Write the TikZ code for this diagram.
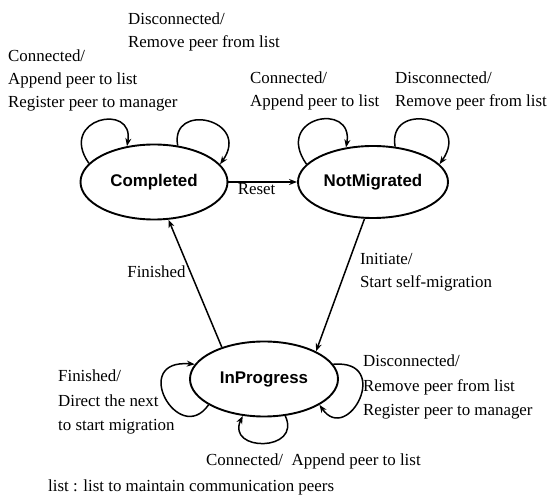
\documentclass[tikz,border=0pt]{standalone}
\usepackage{fontspec}
\setmainfont{Liberation Serif}
\newfontfamily\statefont{Liberation Sans}
\usetikzlibrary{positioning, arrows.meta, shapes.geometric}

\begin{document}
\begin{tikzpicture}[
    x=1pt, y=1pt,
    font=\fontsize{16.9}{23}\selectfont,
    state/.style={ellipse, draw, line width=1.9pt, inner sep=0pt, font=\statefont\bfseries\fontsize{16.9}{20}\selectfont},
    trans/.style={-{Stealth[length=8pt, width=6pt]}, line width=1.5pt},
    note/.style={anchor=west, inner sep=0pt, align=left}
]
\useasboundingbox (0,0) rectangle (549,495);

\node[state, minimum width=147pt, minimum height=75pt] (completed) at (154,313) {Completed};
\node[state, minimum width=150pt, minimum height=72pt] (notmigrated) at (373,313) {NotMigrated};
\node[state, minimum width=148pt, minimum height=75pt] (inprogress) at (264,116) {InProgress};

% transitions between states
\draw[trans] (completed.east) -- node[below, pos=0.41, inner sep=1pt] {Reset} (notmigrated.west);
\draw[trans] (notmigrated.257) -- node[right=14.5pt, pos=0.406, inner sep=0pt, align=left] {Initiate/\\Start self-migration} (inprogress.28);
\draw[trans] (inprogress.143) -- node[left, pos=0.59, inner sep=4pt] {Finished} (completed.291);

% self loops
\draw[trans] (completed.164) .. controls +(125:55) and +(80:45) .. (completed.127);
\draw[trans] (completed.57) .. controls +(100:45) and +(55:55) .. (completed.15);
\draw[trans] (notmigrated.165) .. controls +(125:58) and +(80:47) .. (notmigrated.128);
\draw[trans] (notmigrated.58) .. controls +(100:47) and +(55:58) .. (notmigrated.15);
\draw[trans] (inprogress.205) .. controls +(235:52) and +(175:66) .. (inprogress.168);
\draw[trans] (inprogress.12) .. controls +(5:60) and +(-55:50) .. (inprogress.335);
\draw[trans] (inprogress.300) .. controls +(-65:40) and +(-115:40) .. (inprogress.240);

% loop labels
\node[note] (disccomp) at (128,463.5) {Disconnected/\\Remove peer from list};
\node[note] (conncomp) at (8,415) {Connected/\\Append peer to list\\Register peer to manager};
\node[note] (connnotm) at (250,404) {Connected/\\Append peer to list};
\node[note] (discnotm) at (395,404) {Disconnected/\\Remove peer from list};
\node[note, font=\fontsize{16.9}{24.5}\selectfont] (finprog) at (58,93) {Finished/\\Direct the next\\to start migration};
\node[note, font=\fontsize{16.9}{24.5}\selectfont] (discprog) at (363,108) {Disconnected/\\Remove peer from list\\Register peer to manager};
\node[note] (connprog) at (206,34) {Connected/\ \ Append peer to list};

\node[note] (legend) at (48,8) {list : list to maintain communication peers};

\end{tikzpicture}
\end{document}
